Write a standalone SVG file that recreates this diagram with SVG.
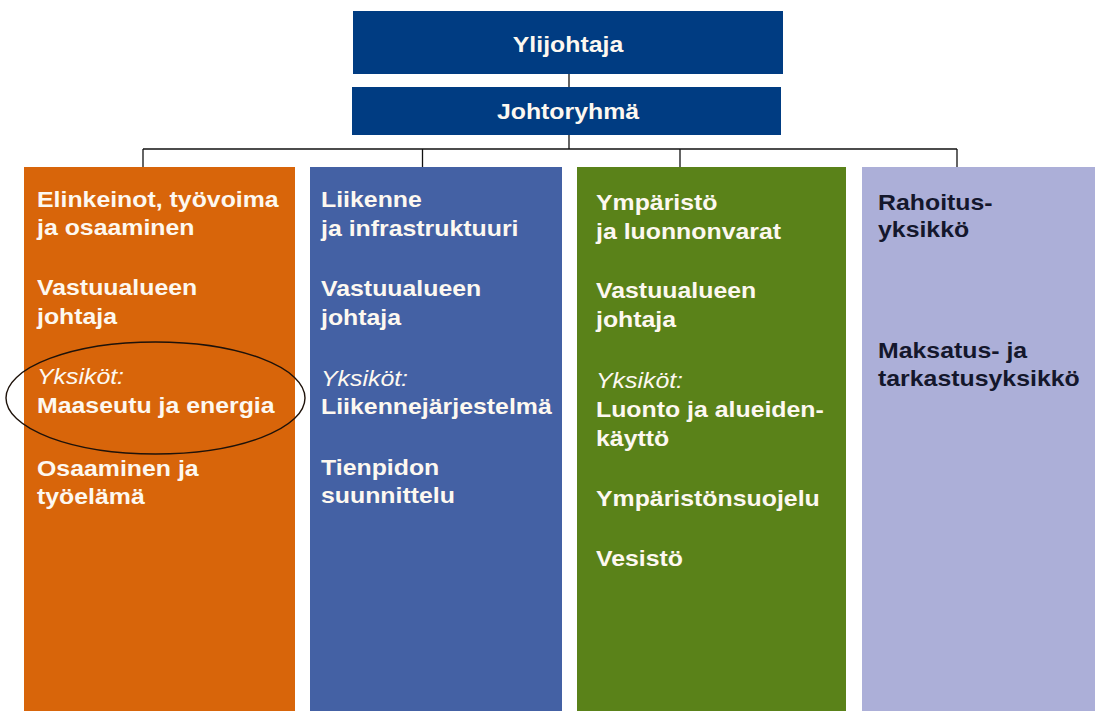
<svg xmlns="http://www.w3.org/2000/svg" width="1095" height="711" viewBox="0 0 1095 711">
  <style>
    .lbl { font-family: "Liberation Sans", Arial, sans-serif; font-size: 22px; font-weight: bold; fill: #fdf8f0; }
    .dark { fill: #14172c; }
    .unit { font-weight: normal; font-style: italic; }
    .mid { text-anchor: middle; }
    .wire { stroke: #111; stroke-width: 1.3; fill: none; }
  </style>
  <rect width="1095" height="711" fill="#ffffff"/>

  <!-- connectors -->
  <g id="connectors" class="wire">
    <line x1="569" y1="74" x2="569" y2="87"/>
    <line x1="569" y1="135" x2="569" y2="149"/>
    <line x1="143" y1="149" x2="957" y2="149"/>
    <line x1="143" y1="149" x2="143" y2="167"/>
    <line x1="422.5" y1="149" x2="422.5" y2="167"/>
    <line x1="680" y1="149" x2="680" y2="167"/>
    <line x1="957" y1="149" x2="957" y2="167"/>
  </g>

  <!-- top management -->
  <g id="ylijohtaja">
    <rect x="353" y="11" width="430" height="63" fill="#003c82"/>
    <g transform="translate(568 0) scale(1.13 1)">
      <text class="lbl mid" x="0" y="52">Ylijohtaja</text>
    </g>
  </g>
  <g id="johtoryhma">
    <rect x="352" y="87" width="429" height="48" fill="#003c82"/>
    <g transform="translate(568 0) scale(1.13 1)">
      <text class="lbl mid" x="0" y="119">Johtoryhmä</text>
    </g>
  </g>

  <!-- responsibility areas -->
  <g id="elinkeinot">
    <rect x="24" y="167" width="271" height="544" fill="#d8650a"/>
    <g transform="translate(37 0) scale(1.13 1)">
      <text class="lbl" x="0" y="207">Elinkeinot, työvoima</text>
      <text class="lbl" x="0" y="235">ja osaaminen</text>
      <text class="lbl" x="0" y="295">Vastuualueen</text>
      <text class="lbl" x="0" y="324">johtaja</text>
      <text class="lbl unit" x="0" y="384">Yksiköt:</text>
      <text class="lbl" x="0" y="413">Maaseutu ja energia</text>
      <text class="lbl" x="0" y="476">Osaaminen ja</text>
      <text class="lbl" x="0" y="504">työelämä</text>
    </g>
    <ellipse cx="155.5" cy="398" rx="149.5" ry="56" fill="none" stroke="#1e120a" stroke-width="1.4"/>
  </g>

  <g id="liikenne">
    <rect x="310" y="167" width="252" height="544" fill="#4461a4"/>
    <g transform="translate(321 0) scale(1.13 1)">
      <text class="lbl" x="0" y="207">Liikenne</text>
      <text class="lbl" x="0" y="236">ja infrastruktuuri</text>
      <text class="lbl" x="0" y="296">Vastuualueen</text>
      <text class="lbl" x="0" y="325">johtaja</text>
      <text class="lbl unit" x="0" y="386">Yksiköt:</text>
      <text class="lbl" x="0" y="414">Liikennejärjestelmä</text>
      <text class="lbl" x="0" y="475">Tienpidon</text>
      <text class="lbl" x="0" y="503">suunnittelu</text>
    </g>
  </g>

  <g id="ymparisto">
    <rect x="577" y="167" width="269" height="544" fill="#5a8219"/>
    <g transform="translate(596 0) scale(1.13 1)">
      <text class="lbl" x="0" y="210">Ympäristö</text>
      <text class="lbl" x="0" y="239">ja luonnonvarat</text>
      <text class="lbl" x="0" y="298">Vastuualueen</text>
      <text class="lbl" x="0" y="327">johtaja</text>
      <text class="lbl unit" x="0" y="388">Yksiköt:</text>
      <text class="lbl" x="0" y="417">Luonto ja alueiden-</text>
      <text class="lbl" x="0" y="446">käyttö</text>
      <text class="lbl" x="0" y="506">Ympäristönsuojelu</text>
      <text class="lbl" x="0" y="566">Vesistö</text>
    </g>
  </g>

  <g id="rahoitus">
    <rect x="862" y="167" width="233" height="544" fill="#acafd8"/>
    <g transform="translate(878 0) scale(1.13 1)">
      <text class="lbl dark" x="0" y="210">Rahoitus-</text>
      <text class="lbl dark" x="0" y="237">yksikkö</text>
      <text class="lbl dark" x="0" y="358">Maksatus- ja</text>
      <text class="lbl dark" x="0" y="386">tarkastusyksikkö</text>
    </g>
  </g>
</svg>
